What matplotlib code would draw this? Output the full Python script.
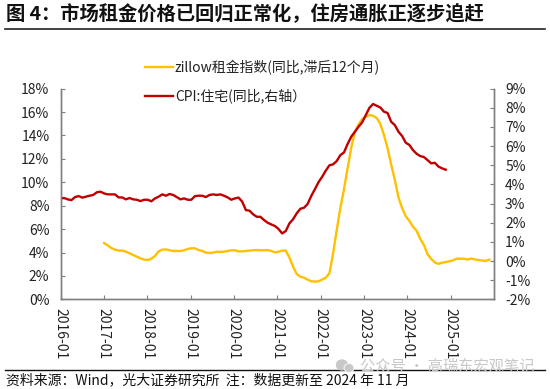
import numpy as np
import matplotlib
matplotlib.use("Agg")
import matplotlib.pyplot as plt
from matplotlib.lines import Line2D
from matplotlib.patches import Ellipse

plt.rcParams['font.family'] = ['Noto Sans CJK SC', 'DejaVu Sans']

cpi_shelter = [3.27,3.29,3.22,3.18,3.34,3.39,3.31,3.36,3.41,3.45,3.59,3.62,3.53,3.48,3.48,3.48,
    3.32,3.32,3.22,3.29,3.22,3.20,3.13,3.20,3.20,3.12,3.27,3.36,3.48,3.41,3.50,3.45,
    3.34,3.22,3.27,3.20,3.20,3.39,3.41,3.41,3.34,3.45,3.48,3.45,3.48,3.41,3.32,3.20,
    3.27,3.31,3.10,2.66,2.63,2.44,2.31,2.31,2.14,2.00,1.91,1.83,1.67,1.44,1.57,1.97,
    2.18,2.49,2.73,2.78,2.98,3.40,3.75,4.12,4.40,4.72,5.00,5.05,5.22,5.53,5.67,6.11,
    6.49,6.75,7.01,7.24,7.62,8.00,8.20,8.11,8.02,7.80,7.73,7.27,7.10,6.75,6.53,6.18,
    6.06,5.79,5.60,5.48,5.43,5.27,5.10,5.13,4.93,4.84,4.77]
zillow_lag12 = [4.81,4.61,4.38,4.24,4.16,4.16,4.07,3.93,3.79,3.64,3.50,3.39,3.36,3.47,3.70,4.10,
    4.24,4.27,4.19,4.13,4.13,4.13,4.19,4.30,4.36,4.36,4.21,4.13,3.99,3.96,3.99,4.07,
    4.04,4.07,4.13,4.19,4.19,4.10,4.10,4.13,4.16,4.19,4.21,4.19,4.19,4.21,4.13,4.01,
    4.07,4.16,4.16,3.56,2.79,2.16,1.93,1.85,1.68,1.54,1.51,1.54,1.68,1.85,2.22,3.90,
    5.90,7.80,9.40,11.20,12.95,14.30,14.95,15.40,15.60,15.75,15.68,15.50,15.00,14.05,12.90,11.50,
    10.20,8.70,7.80,7.10,6.70,6.20,5.85,5.15,4.65,3.85,3.45,3.15,3.03,3.13,3.18,3.25,
    3.33,3.47,3.47,3.47,3.39,3.49,3.41,3.35,3.32,3.27,3.39]
zillow_start = 12
year_labels = ['2016-01','2017-01','2018-01','2019-01','2020-01','2021-01','2022-01','2023-01','2024-01','2025-01']
left_ticks = [0,2,4,6,8,10,12,14,16,18]
right_ticks = [-2,-1,0,1,2,3,4,5,6,7,8,9]
title = '图 4：市场租金价格已回归正常化，住房通胀正逐步追赶'
source = '资料来源：Wind，光大证券研究所  注：数据更新至 2024 年 11 月'
name_zillow = 'zillow租金指数(同比,滞后12个月)'
name_cpi = 'CPI:住宅(同比,右轴）'
watermark = '公众号 · 高瑞东宏观笔记'

W, H = 550, 389
fig = plt.figure(figsize=(5.5, 3.89), dpi=100)
ax = fig.add_axes([60.5/W, 1-299.3/H, (494-60.5)/W, (299.3-88.7)/H])
ax2 = ax.twinx()
ax.set_zorder(1); ax2.set_zorder(2); ax2.patch.set_visible(False)

STEP = 1.006
YEL, RED, GREY = '#FFC000', '#C00000', '#7f7f7f'
x_c = np.arange(len(cpi_shelter))*STEP
x_z = (np.arange(len(zillow_lag12))+zillow_start)*STEP
l1, = ax.plot(x_z, zillow_lag12, color=YEL, lw=1.7, solid_joinstyle='round')
l2, = ax2.plot(x_c, cpi_shelter, color=RED, lw=1.7, solid_joinstyle='round')

ax.set_xlim(0, 120)
ax.set_ylim(0, 18)
ax2.set_ylim(-2, 9)
ax.set_xticks(np.arange(len(year_labels))*12)
ax.set_xticklabels(year_labels, rotation=-90, fontsize=10, color='#222222')
ax.set_yticks(left_ticks)
ax.set_yticklabels([f'{v}%' for v in left_ticks], fontsize=10, color='#222222')
ax2.set_yticks(right_ticks)
ax2.set_yticklabels([f'{v}%' for v in right_ticks], fontsize=10, color='#222222')
ax.tick_params(axis='x', direction='in', length=3.2, width=0.8, color=GREY, pad=6)
ax.tick_params(axis='y', direction='in', length=2.6, width=0.8, color=GREY, pad=8)
ax2.tick_params(axis='y', direction='in', length=2.6, width=0.8, color=GREY, pad=8)
for a in (ax, ax2):
    a.spines['top'].set_visible(False)
    for s in ('left', 'right', 'bottom'):
        a.spines[s].set_color(GREY)
        a.spines[s].set_linewidth(1.0)

leg = fig.legend([l1, l2], [name_zillow, name_cpi], loc='upper left',
                 bbox_to_anchor=(145/W, 1-60/H), frameon=False, fontsize=10,
                 handlelength=2.05, handletextpad=0.1, labelspacing=0.98, borderpad=0, borderaxespad=0)
for t in leg.get_texts():
    t.set_color('#222222')

fig.text(5.5/W, 1-14/H, title, fontsize=13.9, fontweight='bold', color='#111111', va='center', ha='left')
fig.add_artist(Line2D([5/W, 545/W], [1-29/H]*2, color='#222222', lw=1.2))
fig.add_artist(Line2D([5/W, 545/W], [1-370/H]*2, color='#111111', lw=1.0))
fig.text(6/W, 1-380.5/H, source, fontsize=10, color='#111111', va='center', ha='left')

fig.text(360/W, 1-366/H, watermark, fontsize=11, color='#c8c8c8', va='center', ha='left', zorder=5)
bubble = '#c8c8c8'
fig.add_artist(Ellipse((342/W, 1-365/H), 11/W, 10/H, color=bubble, zorder=5))
fig.add_artist(Ellipse((349/W, 1-368/H), 10/W, 9/H, color=bubble, ec='white', lw=0.6, zorder=6))

fig.savefig('out.png', dpi=100)
